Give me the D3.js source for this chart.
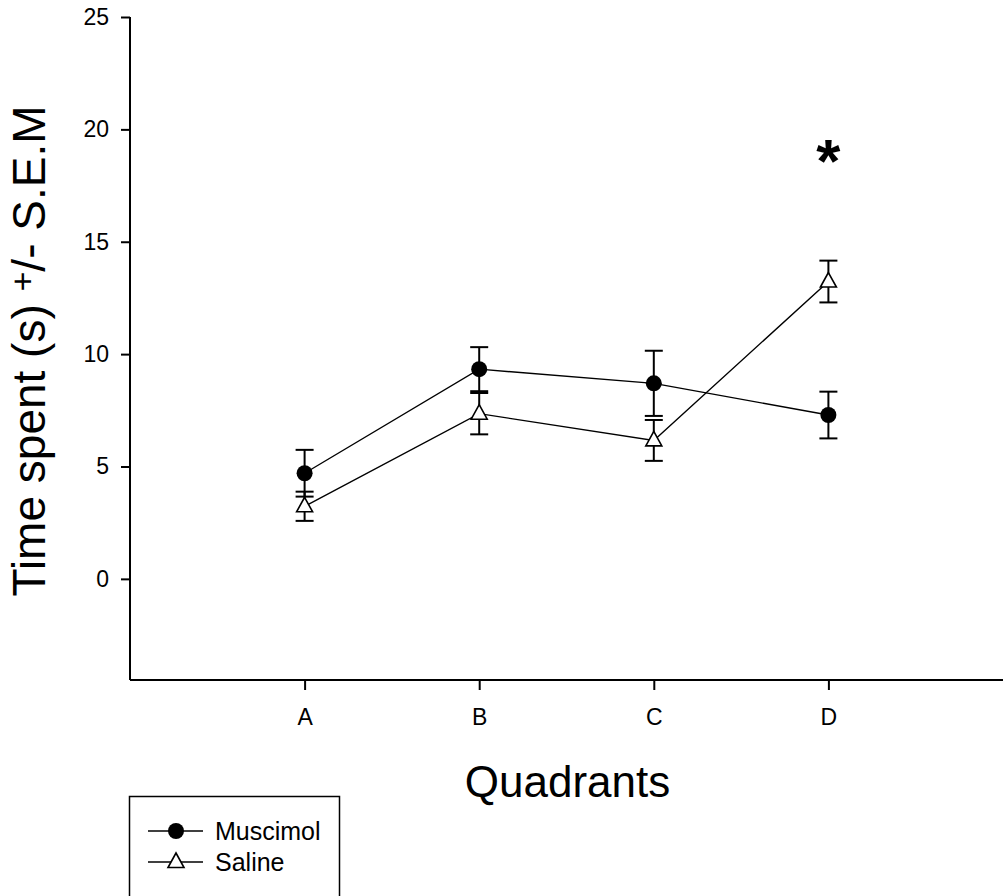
<!DOCTYPE html>
<html>
<head>
<meta charset="utf-8">
<script src="https://cdn.jsdelivr.net/npm/d3@7"></script>
<style>
  html, body { margin: 0; padding: 0; background: #fff; }
  svg { display: block; font-family: "Liberation Sans", Arial, sans-serif; }
</style>
</head>
<body>
<svg id="chart" width="1006" height="896"></svg>
<script>
// Time spent per quadrant, mean and S.E.M for each treatment group
const quadrants = ["A", "B", "C", "D"];
const muscimolMean = [4.70, 9.33, 8.70, 7.29];
const muscimolSem  = [1.04, 0.98, 1.45, 1.04];
const salineMean   = [3.23, 7.35, 6.16, 13.23];
const salineSem    = [0.65, 0.92, 0.91, 0.93];
const yTicks = [0, 5, 10, 15, 20, 25];
const significant = ["D"];

const series = [
  { name: "Muscimol", mean: muscimolMean, sem: muscimolSem, marker: "circle" },
  { name: "Saline",   mean: salineMean,   sem: salineSem,   marker: "triangle" }
];

const svg = d3.select("#chart");

// Quadrants sit at positions 1..4 on a 0..5 axis
const x = d3.scaleLinear().domain([0, quadrants.length + 1]).range([130, 1003]);
const xPos = q => x(quadrants.indexOf(q) + 1);
const y = d3.scaleLinear().domain([-4.5, 25]).range([680, 17]);

// Axes
const yAxis = d3.axisLeft(y).tickValues(yTicks).tickSize(9).tickPadding(12).tickFormat(d3.format("d"));
const gy = svg.append("g").attr("transform", `translate(${x(0)},0)`).call(yAxis);
const xAxis = d3.axisBottom(x).tickValues(quadrants.map((q, i) => i + 1))
  .tickFormat(i => quadrants[i - 1]).tickSize(10).tickPadding(19);
const gx = svg.append("g").attr("transform", `translate(0,${y(-4.5)})`).call(xAxis);

[gx, gy].forEach(g => {
  g.select(".domain").attr("stroke", "#000").attr("stroke-width", 2);
  g.selectAll(".tick line").attr("stroke", "#000").attr("stroke-width", 2);
  g.selectAll(".tick text").attr("fill", "#000").style("font-size", "23px")
    .style("font-family", "'Liberation Sans', Arial, sans-serif");
});
gy.select(".domain").attr("d", `M0,${y(25)}V${y(-4.5)}`);
gx.select(".domain").attr("d", `M${x(0)},0H${x(5)}`);

// Axis titles
svg.append("text")
  .attr("x", x(2.5) + 1).attr("y", 797)
  .attr("text-anchor", "middle")
  .style("font-size", "44px")
  .text("Quadrants");

const yTitle = svg.append("text")
  .attr("transform", `translate(45,351) rotate(-90)`)
  .attr("text-anchor", "middle")
  .style("font-size", "46px");
yTitle.append("tspan").text("Time spent (s) ");
yTitle.append("tspan").attr("dy", -11).style("font-size", "34px").text("+");
yTitle.append("tspan").attr("dy", 11).text("/- S.E.M");

// Marker shapes
const triPath = "M0,-9L8,5.5L-8,5.5Z";
function drawMarker(sel, kind) {
  if (kind === "circle") {
    sel.append("circle").attr("r", 8).attr("fill", "#000");
  } else {
    sel.append("path").attr("d", triPath).attr("fill", "#fff")
      .attr("stroke", "#000").attr("stroke-width", 1.6).attr("stroke-linejoin", "miter");
  }
}

const plot = svg.append("g");
const line = d3.line().x((d, i) => x(i + 1)).y(d => y(d));

// Connecting lines
series.forEach(s => {
  plot.append("path")
    .attr("d", line(s.mean))
    .attr("fill", "none").attr("stroke", "#000").attr("stroke-width", 1.4);
});

// Error bars
series.forEach(s => {
  const g = plot.append("g").attr("stroke", "#000").attr("stroke-width", 2);
  s.mean.forEach((m, i) => {
    const cx = x(i + 1), lo = y(m - s.sem[i]), hi = y(m + s.sem[i]);
    g.append("line").attr("x1", cx).attr("x2", cx).attr("y1", lo).attr("y2", hi);
    g.append("line").attr("x1", cx - 9).attr("x2", cx + 9).attr("y1", hi).attr("y2", hi);
    g.append("line").attr("x1", cx - 9).attr("x2", cx + 9).attr("y1", lo).attr("y2", lo);
  });
});

// Markers
series.forEach(s => {
  s.mean.forEach((m, i) => {
    const g = plot.append("g").attr("transform", `translate(${x(i + 1)},${y(m)})`);
    drawMarker(g, s.marker);
  });
});

// Significance marker
significant.forEach(q => {
  svg.append("text")
    .attr("x", xPos(q)).attr("y", 182)
    .attr("text-anchor", "middle")
    .style("font-size", "62px").style("font-weight", "bold")
    .text("*");
});

// Legend
const legend = svg.append("g");
legend.append("rect")
  .attr("x", 129.5).attr("y", 796.5).attr("width", 210).attr("height", 110)
  .attr("fill", "#fff").attr("stroke", "#000").attr("stroke-width", 1.5);
series.forEach((s, i) => {
  const ly = 831 + i * 31;
  legend.append("line").attr("x1", 148).attr("x2", 203).attr("y1", ly).attr("y2", ly)
    .attr("stroke", "#000").attr("stroke-width", 1.4);
  const mg = legend.append("g").attr("transform", `translate(176,${ly})`);
  drawMarker(mg, s.marker);
  legend.append("text").attr("x", 215).attr("y", ly + 9)
    .style("font-size", "25px").text(s.name);
});
</script>
</body>
</html>
